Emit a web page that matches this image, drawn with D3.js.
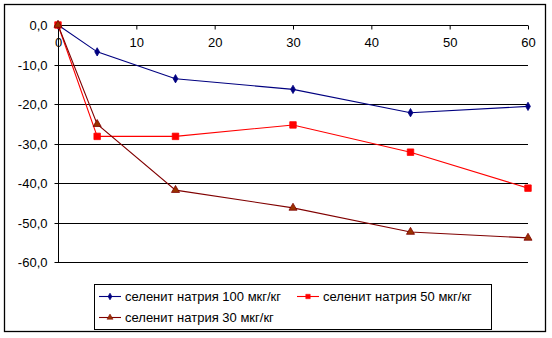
<!DOCTYPE html>
<html>
<head>
<meta charset="utf-8">
<script src="https://cdn.jsdelivr.net/npm/d3@7"></script>
<style>
  html, body { margin: 0; padding: 0; background: #fff; }
  svg { display: block; font-family: "Liberation Sans", Arial, sans-serif; }
</style>
</head>
<body>
<svg id="chart" width="552" height="338"></svg>
<script>
// Time points (x) and the three series
const timePoints = [0, 5, 15, 30, 45, 60];
const seriesNames = ["селенит натрия 100 мкг/кг", "селенит натрия 50 мкг/кг", "селенит натрия 30 мкг/кг"];
const values100 = [0, -6.8, -13.6, -16.3, -22.2, -20.6];
const values50 = [0, -28.2, -28.2, -25.3, -32.2, -41.3];
const values30 = [0, -25.1, -41.8, -46.3, -52.4, -53.9];
const xTicks = [0, 10, 20, 30, 40, 50, 60];
const yTicks = [0, -10, -20, -30, -40, -50, -60];

const svg = d3.select("#chart");
const fmt = d => d3.format(".1f")(d).replace(".", ",").replace("−", "-");

// Outer chart frame
svg.append("rect").attr("x", 4.5).attr("y", 4.5).attr("width", 541).attr("height", 327)
  .attr("fill", "#fff").attr("stroke", "#000").attr("stroke-width", 1.3);

const x = d3.scaleLinear().domain([0, 60]).range([58, 528]);
const y = d3.scaleLinear().domain([-60, 0]).range([262, 25]);

// Horizontal gridlines
svg.append("g").selectAll("line").data(yTicks).join("line")
  .attr("x1", x(0)).attr("x2", x(60))
  .attr("y1", d => Math.round(y(d)) + 0.5).attr("y2", d => Math.round(y(d)) + 0.5)
  .attr("stroke", "#000").attr("stroke-width", 1);

// Y axis
const yAxis = svg.append("g").attr("transform", `translate(${x(0) + 0.5},0)`)
  .call(d3.axisLeft(y).tickValues(yTicks).tickFormat(fmt).tickSize(4).tickPadding(7));
yAxis.select(".domain").attr("stroke", "#000").attr("d", `M0,${y(0)}V${y(-60)}`);
yAxis.selectAll("text").attr("font-size", 13).attr("fill", "#000")
  .attr("font-family", "Liberation Sans, Arial, sans-serif");
yAxis.selectAll(".tick line").attr("stroke", "#000");
yAxis.selectAll(".tick").attr("transform", d => `translate(0,${Math.round(y(d)) + 0.5})`);

// X axis along the zero line, ticks pointing down
const xAxis = svg.append("g").attr("transform", `translate(0,${Math.round(y(0)) + 0.5})`)
  .call(d3.axisBottom(x).tickValues(xTicks).tickSize(4).tickPadding(8));
xAxis.select(".domain").attr("stroke", "#000").attr("d", `M${x(0)},0H${x(60)}`);
xAxis.selectAll("text").attr("font-size", 13).attr("fill", "#000")
  .attr("font-family", "Liberation Sans, Arial, sans-serif");
xAxis.selectAll(".tick line").attr("stroke", "#000");

// Series styles
const series = [
  { name: seriesNames[0], values: values100, color: "#000080", fill: "#000080", marker: "diamond" },
  { name: seriesNames[1], values: values50, color: "#ff0000", fill: "#ff0000", marker: "square" },
  { name: seriesNames[2], values: values30, color: "#800000", fill: "#993300", marker: "triangle" }
];

const symbolFor = m => m === "diamond" ? d3.symbolDiamond : m === "square" ? d3.symbolSquare : d3.symbolTriangle;
const sizeFor = (m, big) => {
  if (m === "diamond") return big ? 20 : 14;
  if (m === "square") return big ? 42 : 20;
  return big ? 28 : 16;
};

const line = d3.line().x((d, i) => x(timePoints[i])).y(d => y(d));

series.forEach(s => {
  svg.append("path").datum(s.values).attr("d", line)
    .attr("fill", "none").attr("stroke", s.color).attr("stroke-width", 1.1);
  svg.append("g").selectAll("path").data(s.values).join("path")
    .attr("transform", (d, i) => `translate(${x(timePoints[i])},${y(d)})`)
    .attr("d", d3.symbol().type(symbolFor(s.marker)).size(sizeFor(s.marker, true)))
    .attr("fill", s.fill).attr("stroke", s.color).attr("stroke-width", 0.8);
});

// Legend
svg.append("rect").attr("x", 94.5).attr("y", 284.5).attr("width", 397).attr("height", 45)
  .attr("fill", "#fff").attr("stroke", "#000").attr("stroke-width", 1);

const legendPos = [
  { lx: 99, ly: 296 },
  { lx: 297, ly: 296 },
  { lx: 99, ly: 317 }
];
series.forEach((s, i) => {
  const p = legendPos[i];
  const g = svg.append("g");
  g.append("line").attr("x1", p.lx).attr("x2", p.lx + 22).attr("y1", p.ly + 0.5).attr("y2", p.ly + 0.5)
    .attr("stroke", s.color).attr("stroke-width", 1.1);
  g.append("path").attr("transform", `translate(${p.lx + 11},${p.ly + 0.5})`)
    .attr("d", d3.symbol().type(symbolFor(s.marker)).size(sizeFor(s.marker, false)))
    .attr("fill", s.fill).attr("stroke", s.color).attr("stroke-width", 0.5);
  g.append("text").attr("x", p.lx + 26).attr("y", p.ly + 0.5).attr("dy", "0.35em")
    .attr("font-size", 13).attr("fill", "#000").text(s.name);
});
</script>
</body>
</html>
